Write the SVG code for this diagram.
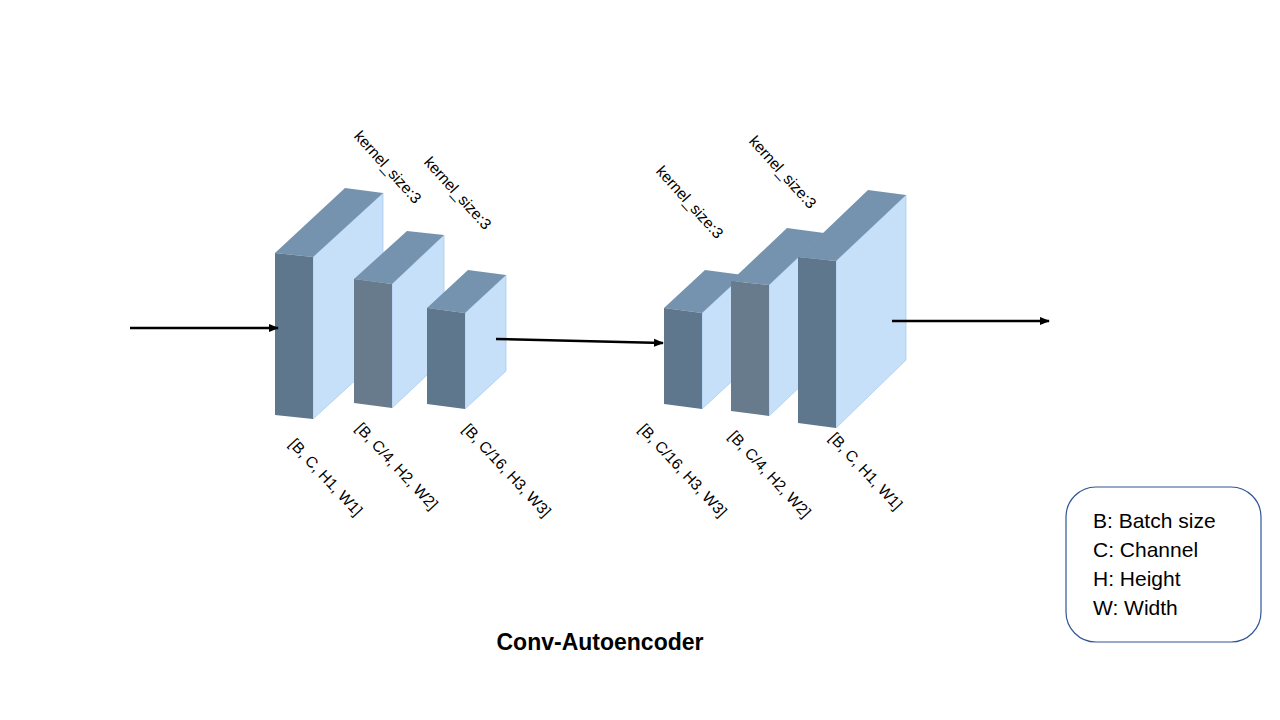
<svg xmlns="http://www.w3.org/2000/svg" width="1280" height="720" viewBox="0 0 1280 720">
<defs>
<marker id="ah" markerWidth="10" markerHeight="10" refX="9" refY="5" orient="auto" markerUnits="userSpaceOnUse">
<path d="M0,1 L10,5 L0,9 Z" fill="#000"/>
</marker>
<style>
.front{fill:#5f778d;}
.front2{fill:#687b8d;}
.top{fill:#7593ae;}
.side{fill:#c5e0f8;stroke:#a9cdf0;stroke-width:0.8;}
.lbl{font-family:"Liberation Sans",Arial,sans-serif;font-size:15.5px;fill:#000;text-anchor:middle;dominant-baseline:central;}
.leg{font-family:"Liberation Sans",Arial,sans-serif;font-size:21px;fill:#000;}
.conn{stroke:#000;stroke-width:2.5;fill:none;marker-end:url(#ah);}
</style>
</defs>
<rect width="1280" height="720" fill="#fff"/>

<g id="enc1">
<polygon class="side" points="313,257 383,193 383,355 313,419"/>
<polygon class="top" points="275,253 345,188 383,193 313,257"/>
<polygon class="front" points="275,253 313,257 313,419 275,415"/>
</g>
<g id="enc2">
<polygon class="side" points="392,284 444,235 444,359 392,408"/>
<polygon class="top" points="354,279 407,231 444,235 392,284"/>
<polygon class="front2" points="354,279 392,284 392,408 354,403"/>
</g>
<g id="enc3">
<polygon class="side" points="465,313 506,275 506,371 465,409"/>
<polygon class="top" points="427,308 468,270 506,275 465,313"/>
<polygon class="front" points="427,308 465,313 465,409 427,404"/>
</g>

<g id="dec3">
<polygon class="side" points="702,313 743,275 743,371 702,409"/>
<polygon class="top" points="664,308 705,270 743,275 702,313"/>
<polygon class="front" points="664,308 702,313 702,409 664,404"/>
</g>
<g id="dec2">
<polygon class="side" points="769,285 824,233 824,364 769,416"/>
<polygon class="top" points="731,281 787,228 824,233 769,285"/>
<polygon class="front2" points="731,281 769,285 769,416 731,411"/>
</g>
<g id="dec1">
<polygon class="side" points="836,261 906,195 906,360 836,428"/>
<polygon class="top" points="798,257 868,190 906,195 836,261"/>
<polygon class="front" points="798,257 836,261 836,428 798,423"/>
</g>

<g id="connectors">
<line class="conn" x1="130" y1="328" x2="278" y2="328"/>
<line class="conn" x1="496" y1="339" x2="663" y2="343"/>
<line class="conn" x1="892" y1="321" x2="1049" y2="321"/>
</g>

<g id="kernel-labels">
<text class="lbl" transform="translate(388,167) rotate(48)">kernel_size:3</text>
<text class="lbl" transform="translate(458,193) rotate(48)">kernel_size:3</text>
<text class="lbl" transform="translate(690,202) rotate(48)">kernel_size:3</text>
<text class="lbl" transform="translate(783,172) rotate(48)">kernel_size:3</text>
</g>

<g id="shape-labels">
<text class="lbl" transform="translate(326,477) rotate(47)">[B, C, H1, W1]</text>
<text class="lbl" transform="translate(397,466) rotate(47)">[B, C/4, H2, W2]</text>
<text class="lbl" transform="translate(507,470) rotate(47)">[B, C/16, H3, W3]</text>
<text class="lbl" transform="translate(683,470) rotate(47)">[B, C/16, H3, W3]</text>
<text class="lbl" transform="translate(770,474) rotate(47)">[B, C/4, H2, W2]</text>
<text class="lbl" transform="translate(866,471) rotate(47)">[B, C, H1, W1]</text>
</g>

<text id="title" x="600" y="650" text-anchor="middle" font-family="'Liberation Sans',Arial,sans-serif" font-size="23" font-weight="bold" fill="#000">Conv-Autoencoder</text>

<g id="legend">
<rect x="1066" y="487" width="195" height="155" rx="30" ry="30" fill="#fff" stroke="#2f5597" stroke-width="1.2"/>
<text class="leg" x="1093" y="528">B: Batch size</text>
<text class="leg" x="1093" y="557">C: Channel</text>
<text class="leg" x="1093" y="586">H: Height</text>
<text class="leg" x="1093" y="615">W: Width</text>
</g>
</svg>
